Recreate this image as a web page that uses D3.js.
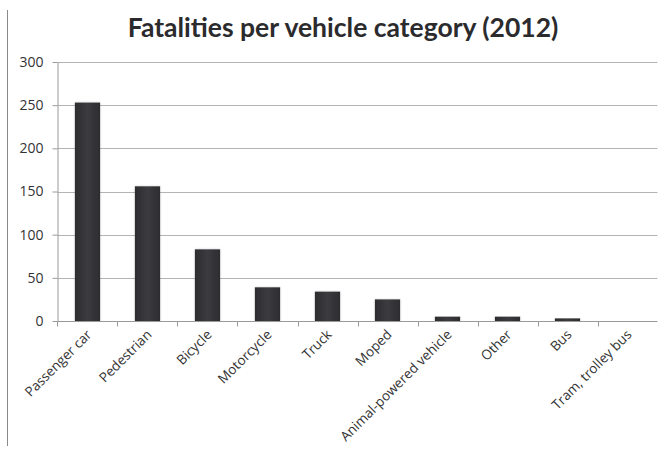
<!DOCTYPE html>
<html>
<head>
<meta charset="utf-8">
<script src="https://cdn.jsdelivr.net/npm/d3@7"></script>
<style>
  html, body { margin: 0; padding: 0; background: #fff; }
  svg { display: block; }
</style>
</head>
<body>
<svg id="chart" width="659" height="450"></svg>
<script>
// Road fatalities by vehicle category, 2012
const categories = ["Passenger car", "Pedestrian", "Bicycle", "Motorcycle", "Truck",
  "Moped", "Animal-powered vehicle", "Other", "Bus", "Tram, trolley bus"];
const fatalities = [253, 156, 83, 39, 34, 25, 5, 5, 3, 0];
const yTicks = [0, 50, 100, 150, 200, 250, 300];
const title = "Fatalities per vehicle category (2012)";

const svg = d3.select("#chart");
const margin = { left: 57.5, right: 1.5, top: 62, bottom: 129 };
const W = 659, H = 450;

const x = d3.scaleBand()
  .domain(categories)
  .range([margin.left, W - margin.right])
  .paddingInner(0.58)
  .paddingOuter(0.29);

const y = d3.scaleLinear()
  .domain([0, 300])
  .range([H - margin.bottom, margin.top]);

// frame line on the left side
svg.append("line")
  .attr("x1", 7.5).attr("x2", 7.5)
  .attr("y1", 10).attr("y2", 446)
  .attr("stroke", "#8a8a8a").attr("stroke-width", 1);

// title
svg.append("text")
  .attr("x", 343).attr("y", 37)
  .attr("text-anchor", "middle")
  .attr("font-family", "Lato, 'Open Sans', sans-serif")
  .attr("font-weight", "bold")
  .attr("font-size", 26.5)
  .attr("fill", "#2b2b2e")
  .text(title);

// horizontal gridlines
svg.append("g")
  .selectAll("line")
  .data(yTicks.filter(d => d > 0))
  .join("line")
  .attr("x1", margin.left).attr("x2", W - margin.right)
  .attr("y1", d => Math.round(y(d)) + 0.5).attr("y2", d => Math.round(y(d)) + 0.5)
  .attr("stroke", "#b4b4b4").attr("stroke-width", 1);

// bar fill
const defs = svg.append("defs");
const grad = defs.append("linearGradient").attr("id", "barFill")
  .attr("x1", "0").attr("x2", "1").attr("y1", "0").attr("y2", "0");
grad.append("stop").attr("offset", "0%").attr("stop-color", "#2d2d30");
grad.append("stop").attr("offset", "50%").attr("stop-color", "#3b3b3f");
grad.append("stop").attr("offset", "100%").attr("stop-color", "#2d2d30");

const shadow = defs.append("filter").attr("id", "barShadow")
  .attr("x", "-20%").attr("y", "-5%").attr("width", "140%").attr("height", "110%");
shadow.append("feDropShadow")
  .attr("dx", 0).attr("dy", 0).attr("stdDeviation", 1)
  .attr("flood-color", "#000").attr("flood-opacity", 0.2);

// bars
svg.append("g")
  .selectAll("rect")
  .data(categories.map((c, i) => ({ c, v: fatalities[i] })))
  .join("rect")
  .attr("x", d => x(d.c))
  .attr("width", x.bandwidth())
  .attr("y", d => y(d.v))
  .attr("height", d => y(0) - y(d.v))
  .attr("fill", "url(#barFill)")
  .attr("filter", "url(#barShadow)");

// y axis
const yAxis = svg.append("g")
  .attr("transform", `translate(${margin.left},0)`)
  .call(d3.axisLeft(y).tickValues(yTicks).tickSize(5).tickPadding(9).tickSizeOuter(0));
yAxis.select(".domain").attr("stroke", "#9a9a9a");
yAxis.selectAll(".tick line").attr("stroke", "#9a9a9a");
yAxis.selectAll(".tick text")
  .attr("font-family", "'Open Sans', sans-serif")
  .attr("font-size", 14)
  .attr("fill", "#333");

// x axis: ticks sit on the category boundaries
const xAxisG = svg.append("g")
  .attr("transform", `translate(0,${Math.round(y(0)) + 0.5})`);
xAxisG.append("line")
  .attr("x1", margin.left).attr("x2", W - margin.right)
  .attr("stroke", "#9a9a9a");
const step = x.step();
const firstEdge = x(categories[0]) - x.paddingOuter() * step;
xAxisG.selectAll("line.tk")
  .data(d3.range(categories.length))
  .join("line").attr("class", "tk")
  .attr("x1", i => Math.round(firstEdge + i * step) + 0.5)
  .attr("x2", i => Math.round(firstEdge + i * step) + 0.5)
  .attr("y1", 0).attr("y2", 5)
  .attr("stroke", "#9a9a9a");

xAxisG.selectAll("text")
  .data(categories)
  .join("text")
  .attr("transform", d => `translate(${x(d) + x.bandwidth() / 2 + 5},${14}) rotate(-45)`)
  .attr("text-anchor", "end")
  .attr("font-family", "'Open Sans', sans-serif")
  .attr("font-size", 13.5)
  .attr("fill", "#333")
  .text(d => d);
</script>
</body>
</html>
